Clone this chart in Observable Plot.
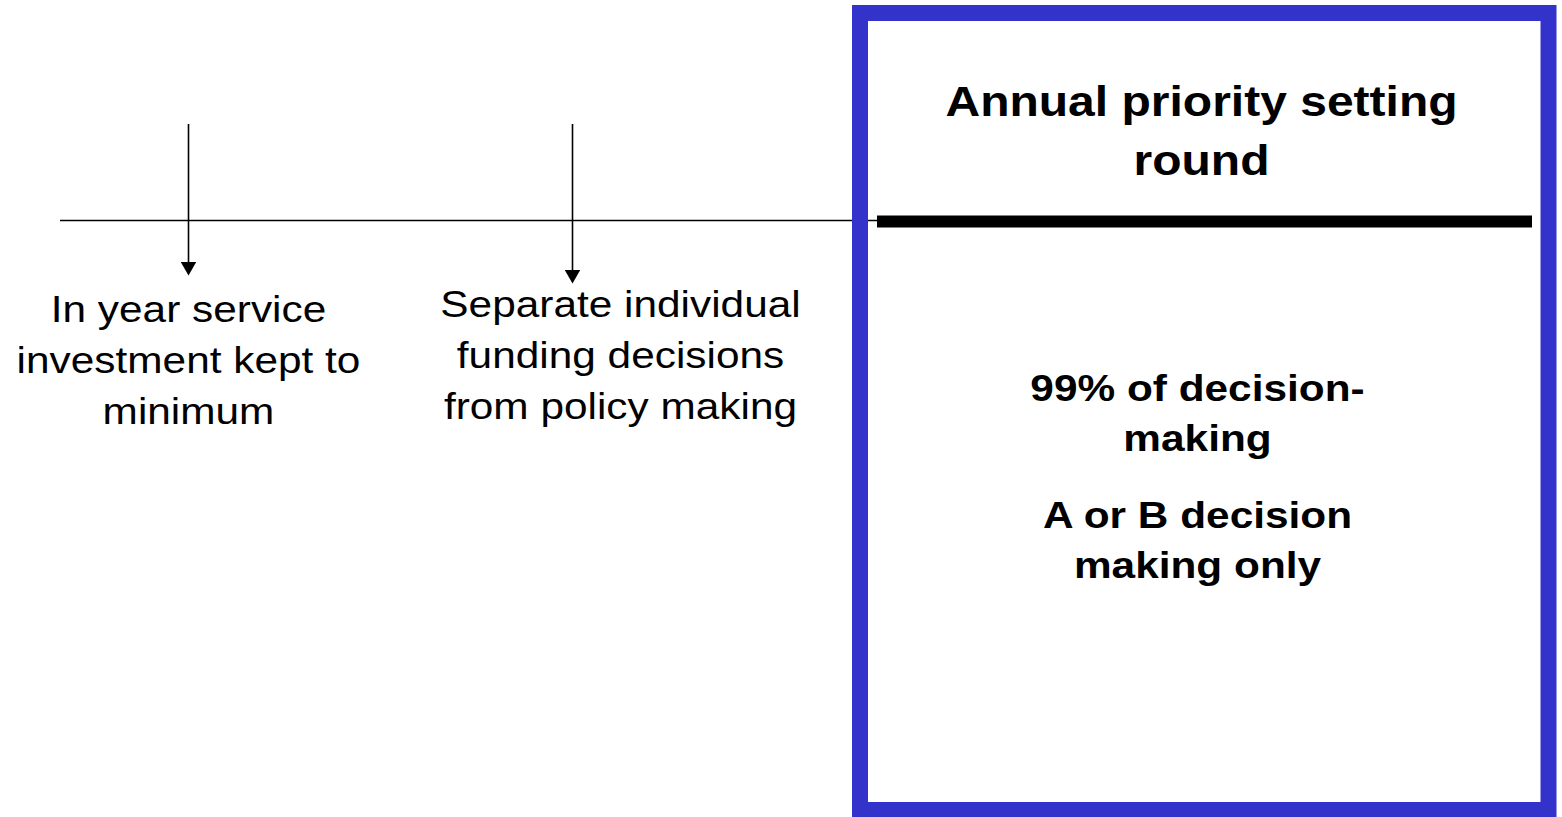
<!DOCTYPE html>
<html>
<head>
<meta charset="utf-8">
<script src="https://cdn.jsdelivr.net/npm/d3@7"></script>
<script src="https://cdn.jsdelivr.net/npm/@observablehq/plot@0.6"></script>
<style>
  html, body { margin: 0; padding: 0; background: #ffffff; }
  #chart svg { display: block; }
</style>
</head>
<body>
<div id="chart"></div>
<script>
// ---- content ----
const calloutLabels = [
  "In year service\ninvestment kept to\nminimum",
  "Separate individual\nfunding decisions\nfrom policy making"
];
const boxTitle = ["Annual priority setting\nround"];
const boxNotes = ["99% of decision-\nmaking", "A or B decision\nmaking only"];

// ---- layout (pixel space of the 1562x817 frame) ----
const W = 1562, H = 817;
const calloutX = [188, 572];
const calloutTextX = [188, 620];
const calloutBaseline = [423, 418];
const arrowTop = 124;
const arrowTip = [275, 283];
const timelineY = 220;
const box = {x1: 860, x2: 1548.5, y1: 13, y2: 810};
const boxColor = "#3333CC";
const barLine = {x1: 877, x2: 1532, y: 221};
const noteBaseline = [450, 577];
const stretch = 1.13;
const font = "'Liberation Sans', Arial, Helvetica, sans-serif";

const callouts = calloutLabels.map((label, i) => ({
  label, x: calloutX[i], tx: calloutTextX[i], tip: arrowTip[i], by: calloutBaseline[i]
}));
const notes = boxNotes.map((label, i) => ({label, y: noteBaseline[i]}));

const plot = Plot.plot({
  width: W, height: H,
  margin: 0,
  x: {domain: [0, W], range: [0, W], axis: null},
  y: {domain: [0, H], range: [0, H], axis: null},
  style: {background: "#ffffff", fontFamily: font},
  marks: [
    // thin timeline
    Plot.ruleY([timelineY], {x1: 60, x2: 877, stroke: "#000", strokeWidth: 1.6}),
    // arrow shafts
    Plot.ruleX(callouts, {x: "x", y1: arrowTop, y2: d => d.tip - 12, stroke: "#000", strokeWidth: 1.6}),
    // arrow heads
    Plot.dot(callouts, {x: "x", y: d => d.tip - 9, symbol: "triangle2", rotate: 180, r: 7.4, fill: "#000", stroke: "none"}),
    // blue box
    Plot.rect([box], {x1: "x1", x2: "x2", y1: "y1", y2: "y2", fill: "none", stroke: boxColor, strokeWidth: 16}),
    // thick divider inside box
    Plot.ruleY([barLine], {y: "y", x1: "x1", x2: "x2", stroke: "#000", strokeWidth: 12}),
    // callout labels
    Plot.text(callouts, {x: "tx", y: "by", text: "label", fontSize: 37.5, lineHeight: 1.36,
      lineAnchor: "bottom", textAnchor: "middle", fill: "#000", fontFamily: font}),
    // box title
    Plot.text(boxTitle, {x: 1201, y: 174, text: d => d, fontSize: 42.5, fontWeight: "bold", lineHeight: 1.365,
      lineAnchor: "bottom", textAnchor: "middle", fill: "#000", fontFamily: font}),
    // box notes
    Plot.text(notes, {x: 1197, y: "y", text: "label", fontSize: 37.5, fontWeight: "bold", lineHeight: 1.32,
      lineAnchor: "bottom", textAnchor: "middle", fill: "#000", fontFamily: font})
  ]
});

// horizontal stretch of the text, as in the original slide
d3.select(plot).selectAll("text").each(function() {
  const t = this.getAttribute("transform");
  if (t && t.includes("translate")) {
    this.setAttribute("transform", t + ` scale(${stretch},1)`);
  } else {
    const x = +this.getAttribute("x") || 0;
    this.removeAttribute("x");
    this.setAttribute("transform", `translate(${x},0) scale(${stretch},1)`);
  }
});

document.getElementById("chart").appendChild(plot);
</script>
</body>
</html>
